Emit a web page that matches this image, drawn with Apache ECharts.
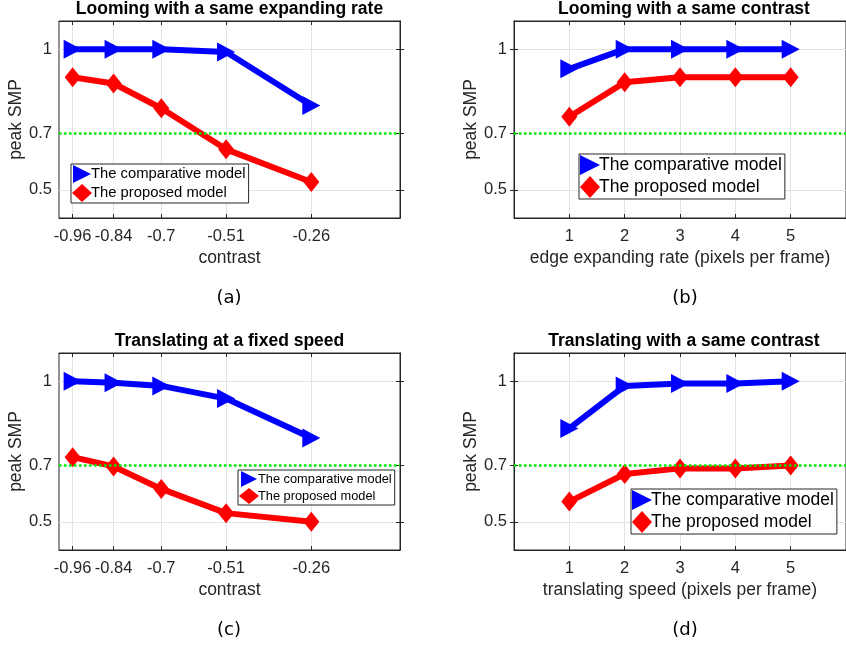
<!DOCTYPE html>
<html>
<head>
<meta charset="utf-8">
<script src="https://cdn.jsdelivr.net/npm/echarts@6/dist/echarts.min.js"></script>
<style>
  html, body { margin: 0; padding: 0; background: #fff; }
  #main { width: 846px; height: 649px; }
</style>
</head>
<body>
<div id="main"></div>
<script>
// data
const contrastLevels = [-0.96, -0.84, -0.7, -0.51, -0.26];
const rateLevels = [1, 2, 3, 4, 5];
const loomContrastComparative = [1.0, 1.0, 1.0, 0.99, 0.8];
const loomContrastProposed = [0.9, 0.878, 0.79, 0.644, 0.528];
const loomRateComparative = [0.93, 1.0, 1.0, 1.0, 1.0];
const loomRateProposed = [0.76, 0.882, 0.9, 0.9, 0.9];
const transContrastComparative = [1.0, 0.994, 0.983, 0.938, 0.798];
const transContrastProposed = [0.73, 0.697, 0.617, 0.531, 0.5];
const transSpeedComparative = [0.832, 0.983, 0.992, 0.992, 1.0];
const transSpeedProposed = [0.572, 0.67, 0.69, 0.69, 0.7];
const yTicks = [0.5, 0.7, 1];
const threshold = 0.7;
const seriesNames = ['The comparative model', 'The proposed model'];

const triRight = 'path://M0,0L10,5L0,10Z';
const txt = '#262626';
const font = 'Liberation Sans, Arial, sans-serif';

const panels = [
  { title: 'Looming with a same expanding rate', cap: '(a)', xs: contrastLevels, xmin: -1, xmax: 0,
    xname: 'contrast', a: loomContrastComparative, b: loomContrastProposed,
    left: 59, top: 21, w: 341, legend: { left: 71, top: 164, fs: 14.8, ih: 18 } },
  { title: 'Looming with a same contrast', cap: '(b)', xs: rateLevels, xmin: 0, xmax: 6,
    xname: 'edge expanding rate (pixels per frame)', a: loomRateComparative, b: loomRateProposed,
    left: 514, top: 21, w: 340, legend: { left: 579, top: 154, fs: 17.5, ih: 22 } },
  { title: 'Translating at a fixed speed', cap: '(c)', xs: contrastLevels, xmin: -1, xmax: 0,
    xname: 'contrast', a: transContrastComparative, b: transContrastProposed,
    left: 59, top: 353, w: 341, legend: { left: 238, top: 470, fs: 12.8, ih: 16 } },
  { title: 'Translating with a same contrast', cap: '(d)', xs: rateLevels, xmin: 0, xmax: 6,
    xname: 'translating speed (pixels per frame)', a: transSpeedComparative, b: transSpeedProposed,
    left: 514, top: 353, w: 340, legend: { left: 631, top: 489, fs: 17.5, ih: 22 } }
];

const grid = [], xAxis = [], yAxis = [], series = [], legend = [], graphic = [];
const H = 197;

panels.forEach((p, i) => {
  grid.push({ left: p.left, top: p.top, width: p.w, height: H, show: true,
    borderColor: txt, borderWidth: 1, backgroundColor: '#fff' });
  // bottom x axis
  xAxis.push({
    type: 'value', gridIndex: i, min: p.xmin, max: p.xmax, position: 'bottom',
    name: p.xname, nameLocation: 'middle', nameGap: 31,
    nameTextStyle: { color: txt, fontSize: 17.5, fontFamily: font },
    axisLine: { show: true, lineStyle: { color: txt, width: 1 } },
    axisTick: { show: true, inside: true, length: 4, customValues: p.xs, lineStyle: { color: txt } },
    axisLabel: { customValues: p.xs, color: txt, fontSize: 16.5, fontFamily: font, margin: 10 },
    splitLine: { show: true, lineStyle: { color: '#e3e3e3', width: 1 } }
  });
  // top mirror axis
  xAxis.push({
    type: 'value', gridIndex: i, min: p.xmin, max: p.xmax, position: 'top',
    axisLine: { show: true, lineStyle: { color: txt, width: 1 } },
    axisTick: { show: true, inside: true, length: 4, customValues: p.xs, lineStyle: { color: txt } },
    axisLabel: { show: false }, splitLine: { show: false }
  });
  yAxis.push({
    type: 'value', gridIndex: i, min: 0.4, max: 1.1, position: 'left',
    name: 'peak SMP', nameLocation: 'middle', nameGap: 32,
    nameTextStyle: { color: txt, fontSize: 17.5, fontFamily: font },
    axisLine: { show: true, lineStyle: { color: txt, width: 1 } },
    axisTick: { show: true, inside: true, length: 4, customValues: yTicks, lineStyle: { color: txt } },
    axisLabel: { customValues: yTicks, color: txt, fontSize: 16.5, fontFamily: font, margin: 7 },
    splitLine: { show: true, lineStyle: { color: '#e3e3e3', width: 1 } }
  });
  yAxis.push({
    type: 'value', gridIndex: i, min: 0.4, max: 1.1, position: 'right',
    axisLine: { show: true, lineStyle: { color: txt, width: 1 } },
    axisTick: { show: true, inside: true, length: 4, customValues: yTicks, lineStyle: { color: txt } },
    axisLabel: { show: false }, splitLine: { show: false }
  });

  series.push({
    name: seriesNames[0], type: 'line', xAxisIndex: 2 * i, yAxisIndex: 2 * i,
    data: p.xs.map((x, k) => [x, p.a[k]]),
    symbol: triRight, symbolSize: [18, 19], color: '#0000ff',
    lineStyle: { width: 6, color: '#0000ff' }, itemStyle: { color: '#0000ff' },
    z: 3, animation: false,
    markLine: {
      silent: true, symbol: 'none', label: { show: false },
      lineStyle: { type: [2.5, 2.5], color: '#00ee00', width: 2.5 },
      data: [{ yAxis: threshold }], z: 4
    }
  });
  series.push({
    name: seriesNames[1], type: 'line', xAxisIndex: 2 * i, yAxisIndex: 2 * i,
    data: p.xs.map((x, k) => [x, p.b[k]]),
    symbol: 'diamond', symbolSize: [16, 20], color: '#ff0000',
    lineStyle: { width: 6, color: '#ff0000' }, itemStyle: { color: '#ff0000' },
    z: 3, animation: false
  });

  legend.push({
    left: p.legend.left, top: p.legend.top, orient: 'vertical',
    backgroundColor: '#fff', borderColor: txt, borderWidth: 1,
    padding: [1, 3, 1, 1], itemGap: 1, itemWidth: 20, itemHeight: p.legend.ih,
    textStyle: { color: '#000', fontSize: p.legend.fs, fontFamily: font, padding: [0, 0, 0, -6] },
    data: [
      { name: seriesNames[0], icon: triRight },
      { name: seriesNames[1], icon: 'diamond' }
    ],
    selectedMode: false
  });

  const cx = p.left + p.w / 2;
  graphic.push({
    type: 'text', x: cx, y: p.top - 12,
    style: { text: p.title, textAlign: 'center', textVerticalAlign: 'middle',
      font: 'bold 17.5px ' + font, fill: '#000' }
  });
  graphic.push({
    type: 'text', x: (i % 2 === 0) ? 229 : 685, y: p.top + 277,
    style: { text: p.cap, textAlign: 'center', textVerticalAlign: 'middle',
      font: '18px DejaVu Sans, sans-serif', fill: '#000' }
  });
});

const chart = echarts.init(document.getElementById('main'));
chart.setOption({
  animation: false,
  grid, xAxis, yAxis, series, legend, graphic
});
</script>
</body>
</html>
